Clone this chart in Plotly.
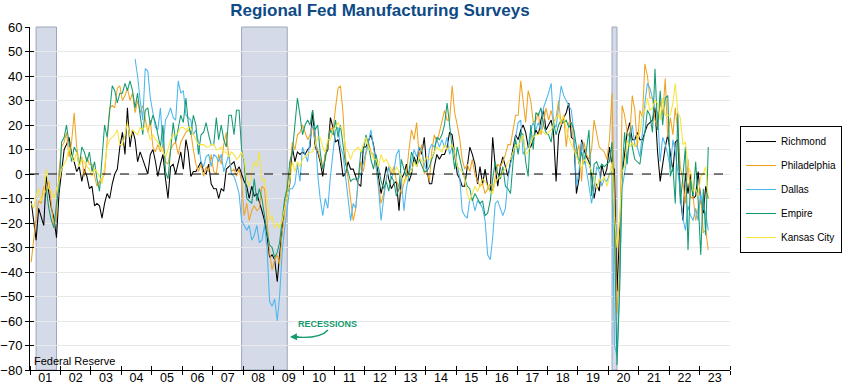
import pandas as pd
import plotly.graph_objects as go

# ---- data (monthly, Jan 2001 - Apr 2023) ----
richmond = [
    -11, -20, -27, -14, -18, -21, -1, -8, -14, -18, -26, -8,      # 2001
    0, 10, 12, 15, 8, 5, 1, 3, -3, 2, -1, -6,                     # 2002
    -5, -13, -12, -13, -18, -12, -8, -10, -4, 0, 2, 11,           # 2003
    17, 8, 27, 11, 18, 14, 5, 9, 6, 3, 0, 8,                      # 2004
    10, 5, -1, 4, 8, -2, -10, 3, 4, 0, 5, 9,                      # 2005
    2, 14, 9, -1, 1, 1, 3, 5, 1, 0, 4, -4,                        # 2006
    -6, -6, -10, -6, -7, 2, 3, 4, 5, 1, 3, 0,                     # 2007
    -3, -5, -10, -5, -9, -8, -12, -15, -19, -25, -34, -33,        # 2008
    -35, -44, -33, -22, -13, -8, -4, 11, 5, 9, 8, 9,              # 2009
    8, 10, 11, 26, 11, 9, 5, -1, 8, 10, 23, 19,                   # 2010
    13, 14, 8, -1, 0, 5, 2, 2, -1, -4, -5, 11,                    # 2011
    11, 14, 16, 12, 6, -1, -8, -3, 3, -2, -6, -4,                 # 2012
    -3, -15, -2, 0, 4, -3, 0, 7, 4, 11, 8, 15,                    # 2013
    2, -4, -4, 3, 8, 6, 8, 8, 11, 17, 16, 8,                      # 2014
    0, -2, -5, -5, 3, 11, 8, 4, -4, 3, -4, 2,                     # 2015
    -5, -7, 15, 3, -5, 3, 7, 3, -1, 5, 11, 16,                    # 2016
    14, 18, 20, 17, 11, 11, 14, 18, 16, 22, 26, 18,               # 2017
    20, 22, 17, -3, 16, 20, 23, 25, 29, 15, 14, -8,               # 2018
    -2, 14, 10, 7, 5, 0, -10, -4, -7, 4, -1, 2,                   # 2019
    11, 3, 2, -48, -27, 0, 8, 17, 21, 14, 14, 17,                 # 2020
    14, 14, 17, 20, 21, 22, 27, 9, -3, 4, 11, 16,                 # 2021
    8, 1, 13, 14, -9, -19, 0, -8, 0, -10, -9, 1,                  # 2022
    -11, -16, -5, -10,                                            # 2023
]
philadelphia = [
    -36, -25, -18, -11, -12, -5, -8, -3, -14, -22, -17, 1,
    11, 13, 17, 7, 13, 25, 11, 4, 7, -1, 7, 4,
    4, -1, -5, -3, -2, 0, 14, 27, 28, 27, 35, 36,
    30, 32, 35, 30, 33, 25, 30, 25, 28, 22, 17, 22,
    11, 9, 12, 9, 12, 5, 4, 10, 12, 13, 8, 13,
    15, 17, 18, 17, 10, 4, 1, 4, -1, 3, 1, 8,
    1, 0, 8, 4, 12, 17, 7, 1, 2, -1, 2, -3,
    -17, -12, -19, -15, -13, -15, -14, -5, -6, -19, -32, -39,
    -35, -33, -37, -24, -16, -3, 0, 13, 10, 16, 17, 20,
    17, 14, 16, 20, 13, 10, 6, 2, 8, 11, 19, 17,
    27, 35, 36, 25, 7, -1, -11, -19, -14, -3, 5, 1,
    8, 13, 9, 8, 3, -5, -12, -8, -3, 3, 0, 3,
    -3, -5, -8, -4, 0, 10, 18, 14, 21, 7, 12, 0,
    2, -3, 9, 16, 13, 17, 22, 26, 22, 22, 36, 25,
    20, 14, 6, 2, 4, 1, 6, 0, -3, -5, -4, -8,
    -6, -4, -7, -1, 4, 3, 5, 8, 12, 12, 18, 24,
    24, 38, 30, 21, 34, 30, 21, 22, 25, 16, 21, 27,
    22, 26, 21, 23, 30, 20, 24, 11, 21, 21, 12, 8,
    12, -3, 13, 8, 6, 10, 22, 17, 11, 10, 9, 6,
    14, 33, -13, -57, -40, 28, 24, 17, 15, 32, 26, 11,
    26, 23, 45, 40, 31, 31, 22, 19, 30, 24, 39, 15,
    23, 16, 27, 17, 3, -3, -12, 6, -10, -9, -19, -14,
    -9, -24, -23, -31,
]
dallas = [None] * 41 + [
    47, 40, 30, 22, 43, 42, 31,                                   # 2004 (from Jun)
    24, 19, 18, 27, 11, 22, 24, 27, 23, 22, 38, 33,
    34, 24, 23, 22, 16, 18, 13, 5, 3, 7, 8, 3,
    8, 7, 5, 8, 1, 5, 8, 0, -1, -4, -8, -19,
    -21, -23, -21, -27, -25, -21, -28, -27, -21, -30, -52, -54,
    -51, -60, -50, -32, -22, -13, -6, -6, -4, 4, -3, 11,
    8, 5, 14, 20, 18, 0, -10, -17, -10, -14, -1, 8,
    18, 19, 11, 8, -2, -10, -19, -12, -14, -2, 0, 5,
    9, 13, 18, 11, 4, -6, -19, -10, -2, 3, -2, 1,
    8, 10, -2, -15, -6, 0, 5, 10, 7, 11, 10, 4,
    1, 10, 12, 11, 14, 11, 14, 11, 15, 8, 11, 8,
    4, -2, -15, -17, -18, -10, -10, -15, -11, -12, -14, -19,
    -33, -35, -26, -12, -11, -14, -17, -14, -2, 4, 8, 15,
    21, 22, 8, 10, 11, 18, 21, 18, 21, 18, 27, 30,
    33, 37, 21, 19, 27, 36, 32, 30, 28, 26, 17, -5,
    1, 13, 8, 2, -5, -12, -6, 3, 1, -5, -2, -3,
    0, 1, -70, -74, -49, -6, 0, 8, 14, 20, 12, 11,
    7, 17, 29, 37, 35, 31, 27, 25, 5, 15, 12, 8,
    2, 14, 9, 1, -7, -18, -23, -13, -17, -19, -14, -19,
    -8, -14, -16, -23,
]
empire = [None] * 6 + [
    -6, -14, -19, -22, -12, -6,                                   # 2001 (from Jul)
    13, 15, 20, 13, 5, 11, 9, 3, 11, 9, 5, 9,
    1, 5, -2, -7, 8, 20, 15, 26, 36, 34, 29, 33,
    33, 37, 34, 38, 34, 27, 33, 24, 16, 26, 27, 20,
    24, 21, 16, 11, 20, 1, -2, 11, 21, 13, 18, 24,
    21, 31, 21, 16, 24, 20, 8, 16, 17, 21, 16, 12,
    12, 23, 14, 20, 14, 11, 24, 24, 16, 26, 26, 10,
    5, -10, -11, -12, -2, -11, -6, -10, -17, -24, -29, -30,
    -34, -32, -28, -19, -10, -6, 5, 9, 21, 31, 24, 16,
    20, 22, 20, 26, 18, 20, 9, 2, 6, 13, 18, 16,
    22, 15, 20, 12, 4, 1, -3, -2, -2, -2, 9, 9,
    16, 12, 6, 2, 8, 3, -3, -6, -3, -7, -1, -3,
    -9, -6, 6, 2, -1, 1, 9, 6, 3, 6, 3, 1,
    1, 3, 6, 9, 15, 14, 16, 20, 29, 20, 9, 2,
    11, 6, 2, -2, -5, -6, -11, -8, -10, -12, -11, -17,
    -16, -11, -2, 5, 0, -2, 3, -5, -6, -8, 5, 14,
    8, 17, 16, 5, -1, 20, 10, 25, 24, 27, 20, 17,
    16, 13, 21, 16, 20, 22, 21, 22, 19, 21, 18, 11,
    4, 9, 4, 10, 18, -9, 4, 5, 2, 4, 3, 4,
    5, 13, -22, -78, -49, 0, 17, 4, 17, 11, 6, 5,
    4, 12, 17, 26, 24, 17, 43, 18, 34, 20, 31, 32,
    -1, 3, -12, 25, -12, -1, 11, -31, -2, -9, 5, -11,
    -33, -6, -25, 11,
]
kansas_city = [
    -12, -14, -9, -6, -11, -8, 2, -6, -7, -10, -6, -3,
    2, 4, 6, 11, 7, 5, 9, 3, 6, 5, 3, 2,
    -1, 2, 1, -1, -4, 3, 11, 14, 15, 16, 18, 12,
    12, 16, 21, 15, 18, 17, 16, 19, 18, 20, 18, 14,
    16, 14, 13, 11, 9, 7, 10, 14, 16, 16, 17, 19,
    19, 18, 19, 19, 16, 14, 12, 12, 12, 11, 11, 12,
    12, 10, 10, 11, 9, 9, 7, 9, 8, 6, 7, 9,
    6, -2, -5, 1, 5, 3, 9, -3, -2, -10, -19, -17,
    -22, -20, -22, -19, -14, -9, -3, 5, 1, 5, 3, 6,
    7, 8, 9, 9, 12, 15, 15, 11, 9, 14, 14, 18,
    19, 21, 19, 18, 11, 9, 6, 9, 10, 11, 9, 12,
    15, 11, 9, 6, 6, 3, 8, 5, 6, 4, 2, 0,
    3, 1, -1, -4, -2, 0, 1, 5, 3, 7, 5, 5,
    7, 6, 7, 9, 11, 10, 9, 12, 10, 11, 12, 9,
    3, 2, 1, -2, -8, -11, -8, -5, -7, -5, -2, -3,
    -5, -7, -8, -3, -2, -1, 1, 2, 5, 6, 9, 12,
    11, 14, 16, 8, 9, 13, 15, 16, 16, 18, 17, 16,
    17, 18, 20, 23, 24, 21, 24, 18, 15, 12, 10, 7,
    5, 2, 6, 5, 4, 1, -1, -6, -2, -3, -1, -5,
    -1, 5, -17, -30, -19, 1, 3, 14, 11, 13, 11, 14,
    17, 24, 26, 31, 26, 27, 30, 29, 22, 31, 24, 24,
    24, 29, 37, 25, 23, 12, 13, 3, 1, -7, -6, -9,
    -1, 0, 3, -10,
]

series_names = ["Richmond", "Philadelphia", "Dallas", "Empire", "Kansas City"]
series_colors = ["#000000", "#f0a323", "#4cb6ee", "#139a72", "#f7e43c"]
recession_starts = ["2001-03-15", "2007-12-15", "2020-02-15"]
recession_ends = ["2001-11-15", "2009-06-15", "2020-04-15"]
x_range = ["2001-01-01", "2024-01-01"]
y_range = [-80, 60]

N = len(richmond)
dates = pd.date_range("2001-01-01", periods=N, freq="MS") + pd.Timedelta(days=14)
all_series = [richmond, philadelphia, dallas, empire, kansas_city]
for s in all_series:
    assert len(s) == N, len(s)

fig = go.Figure()
for name, vals, col in zip(series_names, all_series, series_colors):
    fig.add_trace(go.Scatter(x=dates, y=vals, mode="lines", name=name,
                             legendgroup=name,
                             line=dict(color=col, width=1.05)))
# empty trace on the overlay axes (used only for the crossing tick marks)
fig.add_trace(go.Scatter(x=[], y=[], xaxis="x2", yaxis="y2", showlegend=False,
                         hoverinfo="skip"))

for s0, s1 in zip(recession_starts, recession_ends):
    fig.add_shape(type="rect", xref="x", yref="paper", x0=s0, x1=s1, y0=0, y1=1,
                  fillcolor="#d4dae8", line=dict(color="#9ea6ba", width=1), layer="below")

fig.add_shape(type="line", xref="paper", yref="y", x0=0, x1=1, y0=0, y1=0,
              line=dict(color="#000000", width=1, dash="dash"))

GREEN = "#159a6e"
# curved arrow for the RECESSIONS label
fig.add_shape(type="path", xref="paper", yref="paper",
              path="M 0.4257,0.1166 Q 0.414,0.090 0.378,0.0962",
              line=dict(color=GREEN, width=1.4))
fig.add_annotation(xref="paper", yref="paper", x=0.3714, y=0.0962, ax=10, ay=-0.5,
                   text="", showarrow=True,
                   arrowhead=2, arrowsize=1, arrowwidth=1.4, arrowcolor=GREEN)
fig.add_annotation(xref="paper", yref="paper", x=0.4257, y=0.1327, text="<b>RECESSIONS</b>",
                   xanchor="center", yanchor="middle",
                   showarrow=False, font=dict(size=9, color=GREEN, family="Liberation Sans"))

fig.add_annotation(xref="paper", yref="paper", x=0.003, y=0.003, xanchor="left", yanchor="bottom",
                   text="Federal Reserve", showarrow=False,
                   font=dict(size=11, color="#000000", family="Liberation Sans"))

fig.update_layout(
    width=850, height=385,
    margin=dict(l=30, r=120, t=27, b=15),
    paper_bgcolor="white", plot_bgcolor="white",
    font=dict(family="Liberation Sans, Arial, sans-serif", color="#000000"),
    title=dict(text="<b>Regional Fed Manufacturing Surveys</b>", x=0.447, xanchor="center",
               y=0.973, yanchor="middle", yref="container",
               font=dict(size=17, color="#0d4a86",
                         family="Liberation Sans Narrow, Arial Narrow, Liberation Sans, Arial")),
    showlegend=True,
    legend=dict(xref="container", yref="container", x=0.8706, y=0.6727,
                xanchor="left", yanchor="top",
                bordercolor="#000000", borderwidth=1, bgcolor="white",
                font=dict(size=10), tracegroupgap=5, itemwidth=30),
    xaxis=dict(type="date", range=x_range, dtick="M12",
               tick0="2001-01-01", tickformat="%y", ticklabelmode="period",
               ticks="inside", ticklen=4, tickcolor="#000000", ticklabelstandoff=-4,
               showline=True, linecolor="#000000", linewidth=1,
               showgrid=False, zeroline=False, tickfont=dict(size=12.5), automargin=False),
    xaxis2=dict(type="date", range=x_range, dtick="M12", tick0="2001-01-01",
                overlaying="x", anchor="y2", side="bottom",
                ticks="outside", ticklen=4, tickcolor="#000000",
                showticklabels=False, showline=False, showgrid=False, zeroline=False,
                automargin=False),
    yaxis=dict(range=y_range, dtick=10, tick0=0, ticks="outside", ticklen=4,
               tickcolor="#000000", showline=True, linecolor="#000000", linewidth=1,
               showgrid=True, gridcolor="#e8e8e8", gridwidth=1, zeroline=False,
               tickfont=dict(size=13), automargin=False),
    yaxis2=dict(range=y_range, dtick=10, tick0=0, overlaying="y", anchor="x2", side="left",
                ticks="inside", ticklen=4, tickcolor="#000000",
                showticklabels=False, showline=False, showgrid=False, zeroline=False,
                automargin=False),
)

fig.write_html("out.html", config={"displayModeBar": False},
               post_script="document.body.style.margin='0';")
